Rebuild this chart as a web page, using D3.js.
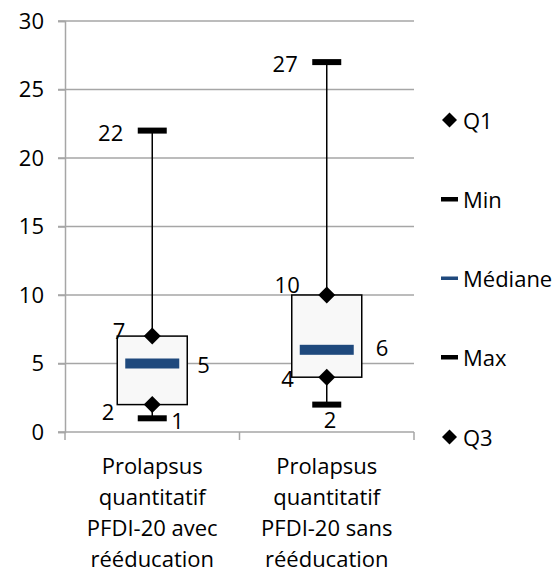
<!DOCTYPE html>
<html><head><meta charset="utf-8">
<script src="https://cdn.jsdelivr.net/npm/d3@7"></script>
<style>body{margin:0;background:#fff}svg{display:block}text{font-family:"Open Sans",sans-serif;fill:#000}</style>
</head><body><svg id="c" width="559" height="573"></svg>
<script>
const categories = [
  ["Prolapsus", "quantitatif", "PFDI-20 avec", "rééducation"],
  ["Prolapsus", "quantitatif", "PFDI-20 sans", "rééducation"]
];
const minVals = [1, 2];
const q1Vals = [2, 4];
const medianVals = [5, 6];
const q3Vals = [7, 10];
const maxVals = [22, 27];
const yTicks = [0, 5, 10, 15, 20, 25, 30];
const legendItems = ["Q1", "Min", "Médiane", "Max", "Q3"];

const FS = 22;
const svg = d3.select("#c");
const L = 65, R = 414, T = 21, B = 432;
const x = d3.scaleBand().domain(d3.range(categories.length)).range([L, R]);
const y = d3.scaleLinear().domain([0, 30]).range([B, T]);
const cx = i => x(i) + x.bandwidth() / 2;

// gridlines
svg.append("g").selectAll("line").data(yTicks.filter(t => t > 0)).join("line")
  .attr("x1", L - 7).attr("x2", R).attr("y1", d => y(d)).attr("y2", d => y(d))
  .attr("stroke", "#a6a6a6").attr("stroke-width", 1.5);
// y axis
const ya = svg.append("g").attr("transform", `translate(${L},0)`)
  .call(d3.axisLeft(y).tickValues(yTicks).tickSize(7).tickPadding(14));
ya.select(".domain").attr("stroke", "#a6a6a6").attr("stroke-width", 1.5);
ya.selectAll(".tick line").attr("stroke", "#a6a6a6").attr("stroke-width", 1.5);
ya.selectAll(".tick text").attr("font-size", FS).attr("font-family", "Open Sans").attr("fill", "#000");
// x axis
svg.append("line").attr("x1", L - 7).attr("x2", R).attr("y1", B).attr("y2", B)
  .attr("stroke", "#a6a6a6").attr("stroke-width", 1.5);
const xt = [L, ...d3.range(1, categories.length).map(i => x(i)), R];
svg.append("g").selectAll("line").data(xt).join("line")
  .attr("x1", d => d).attr("x2", d => d).attr("y1", B).attr("y2", B + 8)
  .attr("stroke", "#a6a6a6").attr("stroke-width", 1.5);
// category labels
categories.forEach((lines, i) => {
  const t = svg.append("text").attr("text-anchor", "middle").attr("font-size", FS);
  lines.forEach((ln, k) => t.append("tspan").attr("x", cx(i)).attr("y", 474 + k * 31).text(ln));
});

const boxW = 70, medW = 54, medH = 10, capW = 29, capH = 6, dia = 8.5;
const idx = d3.range(categories.length);
// whiskers
svg.append("g").selectAll("line").data(idx).join("line")
  .attr("x1", cx).attr("x2", cx).attr("y1", i => y(minVals[i])).attr("y2", i => y(maxVals[i]))
  .attr("stroke", "#000").attr("stroke-width", 1.5);
// boxes
svg.append("g").selectAll("rect").data(idx).join("rect")
  .attr("x", i => cx(i) - boxW / 2).attr("width", boxW)
  .attr("y", i => y(q3Vals[i])).attr("height", i => y(q1Vals[i]) - y(q3Vals[i]))
  .attr("fill", "#f8f8f8").attr("stroke", "#000").attr("stroke-width", 1.5);
// medians
svg.append("g").selectAll("rect").data(idx).join("rect")
  .attr("x", i => cx(i) - medW / 2).attr("width", medW)
  .attr("y", i => y(medianVals[i]) - medH / 2).attr("height", medH).attr("fill", "#1f497d");
// caps
[minVals, maxVals].forEach(arr => {
  svg.append("g").selectAll("rect").data(idx).join("rect")
    .attr("x", i => cx(i) - capW / 2).attr("width", capW)
    .attr("y", i => y(arr[i]) - capH / 2).attr("height", capH).attr("fill", "#000");
});
// diamonds
const dpath = (px, py, r) => `M${px},${py - r}L${px + r},${py}L${px},${py + r}L${px - r},${py}Z`;
[q1Vals, q3Vals].forEach(arr => {
  svg.append("g").selectAll("path").data(idx).join("path")
    .attr("d", i => dpath(cx(i), y(arr[i]), dia)).attr("fill", "#000");
});

// data labels
function labels(arr, anchor, dx, dy) {
  svg.append("g").selectAll("text").data(idx).join("text")
    .attr("font-size", FS).attr("text-anchor", anchor).attr("dominant-baseline", "central")
    .attr("x", i => cx(i) + (typeof dx === "function" ? dx(i) : dx))
    .attr("y", i => y(arr[i]) + (typeof dy === "function" ? dy(i) : dy))
    .text(i => arr[i]);
}
labels(maxVals, "end", -29, 1);
labels(q3Vals, "end", -27, i => [-6, -11][i]);
labels(medianVals, "start", i => [45, 49][i], i => [0, -3][i]);
labels(q1Vals, "end", i => [-38, -33][i], i => [6, 1][i]);
labels(minVals, "start", i => [19, -3][i], i => [2, 14][i]);

// legend
const lg = svg.append("g");
const ly = [120, 199, 278, 357, 437];
legendItems.forEach((name, k) => {
  const yy = ly[k];
  if (name === "Q1" || name === "Q3") lg.append("path").attr("d", dpath(449.5, yy, 7.5)).attr("fill", "#000");
  else if (name === "Médiane") lg.append("rect").attr("x", 441).attr("y", yy - 1.5).attr("width", 17).attr("height", 3.5).attr("fill", "#1f497d");
  else lg.append("rect").attr("x", 441).attr("y", yy - 2).attr("width", 17).attr("height", 4.5).attr("fill", "#000");
  lg.append("text").attr("x", 463).attr("y", yy).attr("dominant-baseline", "central").attr("font-size", FS).text(name);
});
</script></body></html>
